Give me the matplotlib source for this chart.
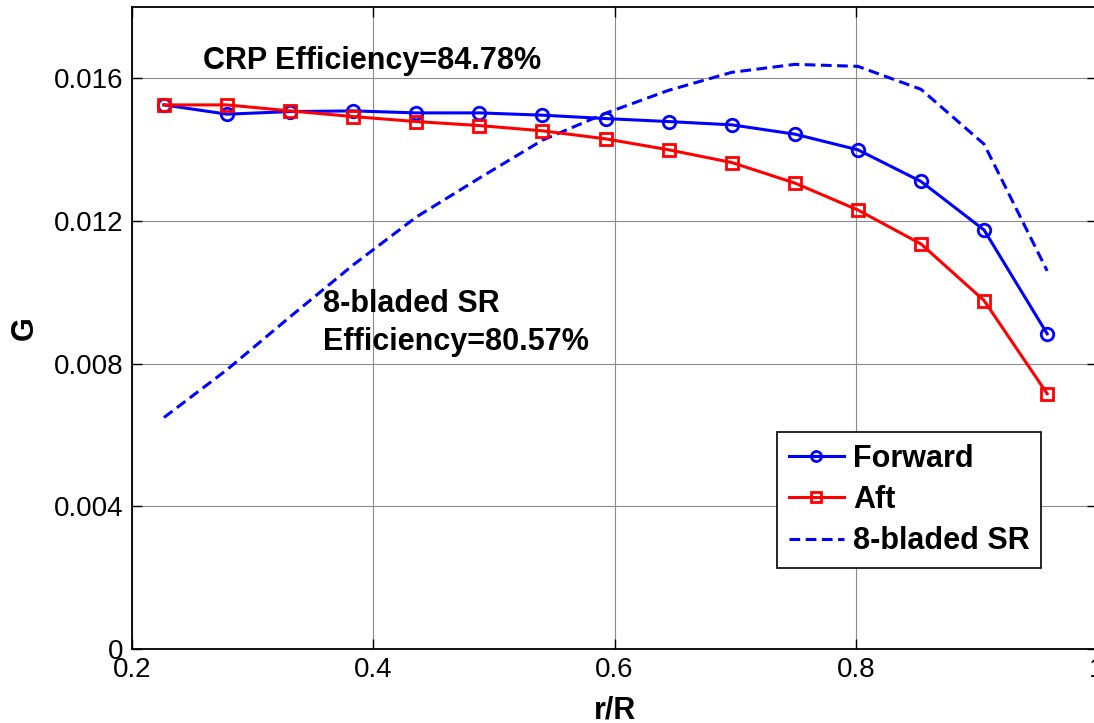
import matplotlib
matplotlib.use("Agg")
import matplotlib.pyplot as plt

# Data
r_R = [0.2265, 0.2788, 0.3311, 0.3834, 0.4357, 0.4880, 0.5403, 0.5926,
       0.6449, 0.6972, 0.7495, 0.8018, 0.8541, 0.9064, 0.9587]
G_forward = [0.015255, 0.014995, 0.015068, 0.015087, 0.015031, 0.015031,
             0.014967, 0.014872, 0.014788, 0.014696, 0.014435, 0.013996,
             0.013109, 0.011748, 0.008837]
G_aft = [0.015255, 0.015255, 0.015087, 0.014928, 0.014788, 0.014676,
         0.014528, 0.014304, 0.013996, 0.013640, 0.013064, 0.012308,
         0.011356, 0.009769, 0.007157]
G_sr = [0.006490, 0.007832, 0.009315, 0.010769, 0.012112, 0.013203,
        0.014266, 0.015021, 0.015664, 0.016168, 0.016392, 0.016336,
        0.015692, 0.014154, 0.010601]

x_ticks = [0.2, 0.4, 0.6, 0.8, 1.0]
x_tick_labels = ["0.2", "0.4", "0.6", "0.8", "1"]
y_ticks = [0, 0.004, 0.008, 0.012, 0.016]
y_tick_labels = ["0", "0.004", "0.008", "0.012", "0.016"]

plt.rcParams['font.family'] = ['Liberation Sans', 'DejaVu Sans']

W, H = 1094, 723
fig = plt.figure(figsize=(W / 100, H / 100), dpi=100)
ax = fig.add_axes([132 / W, (H - 649) / H, (1097 - 132) / W, (649 - 7) / H])

ax.plot(r_R, G_forward, color='blue', lw=2.2, marker='o', ms=9,
        mfc='none', mew=2, label='Forward', zorder=4)
ax.plot(r_R, G_aft, color='red', lw=2.2, marker='s', ms=9,
        mfc='none', mew=2, label='Aft', zorder=4)
ax.plot(r_R, G_sr, color='blue', lw=2.2, ls=(0, (3.5, 1.8)),
        label='8-bladed SR', zorder=3)

ax.set_xlim(0.2, 1.0)
ax.set_ylim(0, 0.018)
ax.set_xticks(x_ticks)
ax.set_xticklabels(x_tick_labels)
ax.set_yticks(y_ticks)
ax.set_yticklabels(y_tick_labels)
ax.tick_params(direction='in', length=7, width=1, labelsize=20,
               top=True, right=True, pad=6)
ax.grid(True, color='#8c8c8c', lw=0.8)
for s in ax.spines.values():
    s.set_linewidth(1.3)

ax.set_xlabel('r/R', fontsize=22, fontweight='bold', labelpad=9)
ax.set_ylabel('G', fontsize=22, fontweight='bold', labelpad=10)

ax.text(0.2589, 0.01649, 'CRP Efficiency=84.78%', fontsize=22,
        fontweight='bold', ha='left', va='center')
ax.text(0.3585, 0.00914, '8-bladed SR\nEfficiency=80.57%', fontsize=22,
        fontweight='bold', ha='left', va='center', linespacing=1.38)

leg = ax.legend(loc='upper left', bbox_to_anchor=(777 / W, (H - 432) / H),
                bbox_transform=fig.transFigure, borderaxespad=0,
                prop={'size': 22, 'weight': 'bold'}, fancybox=False,
                edgecolor='black', framealpha=1, handlelength=1.8,
                handletextpad=0.3, labelspacing=0.37, borderpad=0.38,
                markerscale=0.8)
leg.get_frame().set_linewidth(1.2)

fig.savefig('out.png', dpi=100)
